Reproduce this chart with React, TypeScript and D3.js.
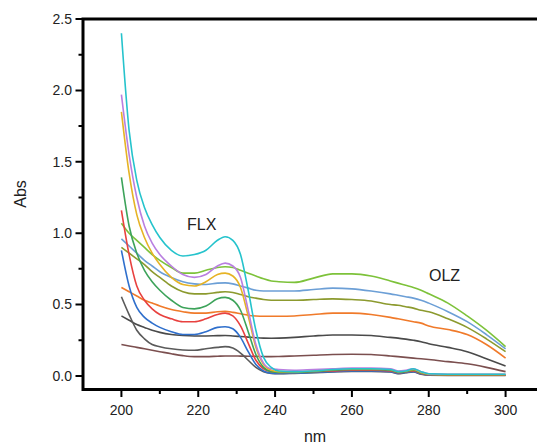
import React, { useRef, useEffect } from 'react';
import * as d3 from 'd3';

// wavelength grid (nm) shared by every trace
const wavelengths = [200, 202, 204, 206, 208, 210, 213, 216, 219, 222, 225, 227, 229, 231, 233, 235, 237, 239, 241, 245, 250, 255, 260, 265, 270, 272, 274, 276, 278, 280, 285, 290, 295, 300];

// traces that keep absorbing past 240 nm (OLZ)
const olzGreen = [1.07, 1.0, 0.95, 0.9, 0.85, 0.81, 0.76, 0.72, 0.72, 0.74, 0.76, 0.765, 0.76, 0.74, 0.72, 0.7, 0.68, 0.665, 0.66, 0.655, 0.685, 0.715, 0.715, 0.7, 0.665, 0.65, 0.635, 0.62, 0.6, 0.575, 0.51, 0.42, 0.32, 0.205];
const olzBlue = [0.96, 0.91, 0.86, 0.81, 0.77, 0.73, 0.69, 0.66, 0.645, 0.64, 0.65, 0.652, 0.645, 0.63, 0.615, 0.6, 0.595, 0.595, 0.595, 0.595, 0.605, 0.615, 0.61, 0.595, 0.575, 0.565, 0.555, 0.545, 0.53, 0.51, 0.45, 0.38, 0.29, 0.19];
const olzOlive = [0.9, 0.86, 0.82, 0.78, 0.73, 0.69, 0.63, 0.59, 0.575, 0.575, 0.585, 0.59, 0.585, 0.57, 0.555, 0.545, 0.535, 0.53, 0.53, 0.53, 0.535, 0.54, 0.535, 0.525, 0.5, 0.495, 0.485, 0.475, 0.46, 0.45, 0.4, 0.34, 0.26, 0.17];
const olzOrange = [0.62, 0.59, 0.56, 0.53, 0.51, 0.49, 0.465, 0.45, 0.44, 0.44, 0.45, 0.452, 0.445, 0.435, 0.425, 0.42, 0.418, 0.418, 0.418, 0.42, 0.43, 0.44, 0.44, 0.43, 0.41, 0.4, 0.39, 0.38, 0.37, 0.35, 0.325, 0.29, 0.22, 0.125];
const olzGray = [0.42, 0.39, 0.36, 0.34, 0.32, 0.305, 0.29, 0.283, 0.28, 0.28, 0.282, 0.283, 0.28, 0.276, 0.272, 0.268, 0.265, 0.264, 0.265, 0.27, 0.28, 0.287, 0.287, 0.283, 0.27, 0.265, 0.258, 0.25, 0.24, 0.225, 0.2, 0.17, 0.12, 0.07];
const olzBrown = [0.22, 0.21, 0.2, 0.19, 0.18, 0.17, 0.155, 0.142, 0.135, 0.135, 0.138, 0.14, 0.14, 0.139, 0.138, 0.137, 0.136, 0.135, 0.136, 0.14, 0.145, 0.15, 0.152, 0.15, 0.14, 0.135, 0.13, 0.125, 0.12, 0.115, 0.1, 0.085, 0.06, 0.03];

// traces that fall to ~0 after 240 nm (FLX)
const flxGray = [0.555, 0.43, 0.32, 0.26, 0.22, 0.205, 0.19, 0.182, 0.18, 0.19, 0.2, 0.205, 0.195, 0.16, 0.11, 0.06, 0.03, 0.018, 0.015, 0.018, 0.022, 0.028, 0.032, 0.032, 0.028, 0.016, 0.022, 0.028, 0.012, 0.005, 0.004, 0.004, 0.004, 0.004];
const flxBlue = [0.88, 0.63, 0.48, 0.41, 0.37, 0.34, 0.31, 0.29, 0.29, 0.31, 0.34, 0.345, 0.33, 0.27, 0.17, 0.08, 0.035, 0.02, 0.018, 0.02, 0.025, 0.03, 0.035, 0.035, 0.03, 0.018, 0.025, 0.03, 0.015, 0.006, 0.005, 0.005, 0.005, 0.005];
const flxRed = [1.16, 0.85, 0.63, 0.53, 0.47, 0.43, 0.4, 0.38, 0.38, 0.4, 0.43, 0.44, 0.42, 0.35, 0.23, 0.11, 0.05, 0.03, 0.025, 0.025, 0.03, 0.035, 0.04, 0.04, 0.035, 0.022, 0.028, 0.035, 0.018, 0.008, 0.006, 0.006, 0.006, 0.006];
const flxGreen = [1.39, 1.05, 0.86, 0.74, 0.66, 0.6, 0.53, 0.48, 0.47, 0.49, 0.54, 0.55, 0.53, 0.46, 0.31, 0.15, 0.06, 0.03, 0.025, 0.025, 0.03, 0.04, 0.045, 0.045, 0.04, 0.025, 0.03, 0.04, 0.02, 0.01, 0.008, 0.008, 0.008, 0.008];
const flxYellow = [1.85, 1.42, 1.13, 0.97, 0.86, 0.78, 0.69, 0.64, 0.63, 0.66, 0.71, 0.72, 0.7, 0.62, 0.42, 0.2, 0.08, 0.04, 0.03, 0.03, 0.035, 0.045, 0.05, 0.05, 0.045, 0.03, 0.035, 0.045, 0.025, 0.012, 0.01, 0.01, 0.01, 0.01];
const flxPurple = [1.97, 1.55, 1.25, 1.05, 0.93, 0.85, 0.77, 0.71, 0.69, 0.71, 0.77, 0.79, 0.77, 0.69, 0.46, 0.22, 0.09, 0.05, 0.045, 0.04, 0.045, 0.05, 0.055, 0.055, 0.05, 0.035, 0.04, 0.05, 0.03, 0.015, 0.012, 0.012, 0.012, 0.012];
const flxCyan = [2.4, 1.72, 1.37, 1.18, 1.06, 0.97, 0.88, 0.84, 0.85, 0.88, 0.95, 0.975, 0.95, 0.85, 0.6, 0.32, 0.13, 0.06, 0.035, 0.03, 0.035, 0.045, 0.05, 0.05, 0.045, 0.03, 0.035, 0.05, 0.03, 0.015, 0.012, 0.012, 0.012, 0.012];

const seriesList = [
  { values: olzBrown, color: '#7b4f4f' },
  { values: olzGray, color: '#4a4a4a' },
  { values: olzOrange, color: '#f07a2a' },
  { values: olzOlive, color: '#8c9a2e' },
  { values: olzBlue, color: '#6c9fd6' },
  { values: olzGreen, color: '#7dc23a' },
  { values: flxGray, color: '#5a5a5a' },
  { values: flxBlue, color: '#2f6fcc' },
  { values: flxRed, color: '#e8413f' },
  { values: flxGreen, color: '#3da35a' },
  { values: flxYellow, color: '#e6b325' },
  { values: flxPurple, color: '#b97fe0' },
  { values: flxCyan, color: '#25c3cc' },
];

const xTicks = [200, 220, 240, 260, 280, 300];
const xMinorTicks = [210, 230, 250, 270, 290];
const yTicks = [0, 0.5, 1.0, 1.5, 2.0, 2.5];
const yMinorTicks = [0.25, 0.75, 1.25, 1.75, 2.25];

const x = d3.scaleLinear().domain([190, 310]).range([83, 544]);
const y = d3.scaleLinear().domain([-0.095, 2.5]).range([389.5, 19]);
const font = 'Arial, "Liberation Sans", sans-serif';
const X0 = 83;
const Y_BASE = 389.5;

function App() {
  const tracesRef = useRef(null);

  useEffect(() => {
    const g = d3.select(tracesRef.current);
    g.selectAll('*').remove();

    const line = d3
      .line()
      .x((d) => x(d[0]))
      .y((d) => y(d[1]))
      .curve(d3.curveMonotoneX);

    g.selectAll('path')
      .data(seriesList)
      .enter()
      .append('path')
      .attr('d', (s) => line(wavelengths.map((w, i) => [w, s.values[i]])))
      .attr('fill', 'none')
      .attr('stroke', (s) => s.color)
      .attr('stroke-width', 1.6)
      .attr('stroke-linejoin', 'round');
  }, []);

  const tickPath =
    xTicks.map((t) => `M${x(t)},${Y_BASE}v7.5`).join('') +
    xMinorTicks.map((t) => `M${x(t)},${Y_BASE}v4.5`).join('') +
    yTicks.map((t) => `M${X0},${y(t)}h-7.5`).join('') +
    yMinorTicks.map((t) => `M${X0},${y(t)}h-4.5`).join('');

  return (
    <svg
      width={537}
      height={445}
      style={{ position: 'absolute', left: 0, top: 0, background: '#ffffff' }}
    >
      <g ref={tracesRef} />
      <path
        d={`M${X0},17.5V391M${X0 - 1.5},${Y_BASE}H560M${X0 - 1.5},19H560`}
        fill="none"
        stroke="black"
        strokeWidth={3}
      />
      <path d={tickPath} fill="none" stroke="black" strokeWidth={2} />
      <g fontFamily={font} fontSize={14} fill="#222">
        {xTicks.map((t) => (
          <text key={t} x={x(t)} y={415} textAnchor="middle">
            {d3.format('d')(t)}
          </text>
        ))}
        {yTicks.map((t) => (
          <text key={t} x={72} y={y(t)} dy="0.35em" textAnchor="end">
            {d3.format('.1f')(t)}
          </text>
        ))}
      </g>
      <g fontFamily={font} fontSize={16} fill="#222">
        <text x={315} y={442} textAnchor="middle">nm</text>
        <text transform="translate(26,194) rotate(-90)" textAnchor="middle">Abs</text>
        <text x={187} y={230}>FLX</text>
        <text x={429} y={281}>OLZ</text>
      </g>
    </svg>
  );
}

export default App;
